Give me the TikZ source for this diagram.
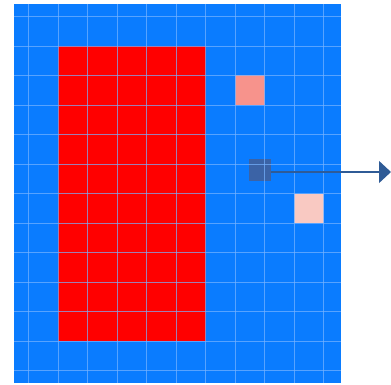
\documentclass[tikz,border=0pt]{standalone}
\usepackage{tikz}
\usetikzlibrary{arrows.meta}

\definecolor{fieldblue}{RGB}{10,124,255}
\definecolor{gridline}{RGB}{120,180,255}
\definecolor{salmon}{RGB}{247,147,140}
\definecolor{palepink}{RGB}{249,201,194}
\definecolor{darkcell}{RGB}{59,99,166}
\definecolor{arrowblue}{RGB}{47,91,150}

\begin{document}
\begin{tikzpicture}[x=1pt, y=-1pt,
    cell/.style={draw=none, inner sep=0pt, minimum size=29.5pt}]
    \useasboundingbox (0,0) rectangle (391,385);

    \fill[fieldblue] (14,4) rectangle (341,383);
    \fill[red] (58,46) rectangle (205.5,341);

    \node[cell, fill=salmon] (hot) at (249.75,90.25) {};
    \node[cell, fill=palepink] (warm) at (308.75,208.25) {};
    \node[cell, fill=darkcell, minimum size=22pt] (probe) at (260,170) {};
    \coordinate (out) at (391,172);

    % grid over the field
    \foreach \k in {0,...,10}
        \draw[gridline, opacity=0.7, line width=0.8pt] (28.5+29.5*\k,4) -- (28.5+29.5*\k,383);
    \foreach \k in {0,...,12}
        \draw[gridline, opacity=0.7, line width=0.8pt] (14,16.5+29.5*\k) -- (341,16.5+29.5*\k);

    \draw[arrowblue, line width=1.2pt, -{Triangle[length=12pt, width=22pt]}] (probe.east |- out) -- (out);
\end{tikzpicture}
\end{document}
